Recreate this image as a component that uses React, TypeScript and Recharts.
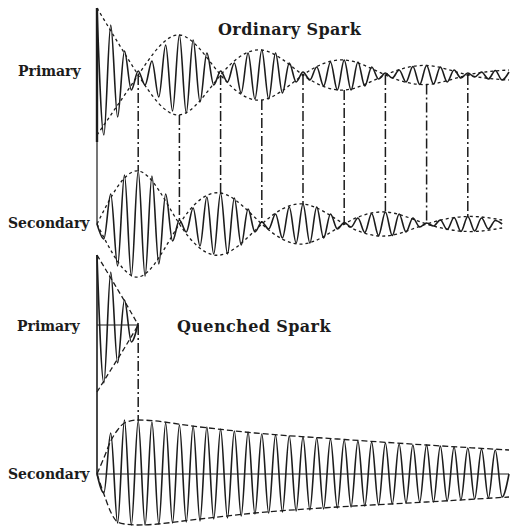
import React from 'react';
import { LineChart, Line, XAxis, YAxis, ReferenceLine } from 'recharts';

// one step of t = one half-cycle of the oscillation
const ordinaryPrimary = [
  67, -60, 50, -42, 24, -15, 4, -10, 14, -22, 30, -36, 40, -38, 35, -27, 22, -10, 4,
  -7, 12, -18, 22, -24, 25, -24, 22, -18, 12, -7, 3,
  -5, 8, -11, 13, -15, 15, -15, 13, -11, 8, -4, 2,
  -3, 5, -7, 8.5, -9.5, 9.5, -9, 8, -7, 5, -3, 2,
  -2, 3, -4, 4.5, -5, 3,
];

const ordinarySecondary = [
  0, -15, 30, -42, 49, -52, 53, -52, 48, -40, 30, -17, 4,
  -8, 16, -22, 27, -30, 31, -30, 26, -21, 15, -8, 2,
  -5, 10, -14, 17, -19, 20, -19, 17, -14, 10, -5, 1.5,
  -3, 6, -8.5, 10.5, -11.5, 12, -11.5, 10, -8, 6, -3, 1,
  -2, 4, -5.5, 6.5, -7.5, 7.5, -7, 6, -5, 3.5, 0,
];

const quenchedPrimary = [70, -58, 53, -38, 25, -17, 2];

const quenchedSecondary = [
  0, -19, 41, -49, 54, -51, 53, -51, 52, -50, 51, -49, 49, -48, 48, -47, 47, -45, 45,
  -44, 43, -42, 42, -40, 40, -39, 39, -38, 38, -37, 37, -36, 36, -35, 35, -34, 34,
  -33, 33, -32, 32, -31, 31, -30, 30, -29, 29, -28, 29, -28, 28, -27, 27, -26, 26,
  -25, 25, -24, 24, -23, 0,
];

// dashed envelopes
const ordinaryEnvT = [0, 6, 12, 18, 24, 30, 36, 42, 48, 54, 60];
const ordinaryPrimaryEnvA = [67, 0, -40, 0, 25, 0, -15, 0, 9.5, 0, -5];
const ordinaryPrimaryEnvB = [-60, 0, 40, 0, -25, 0, 15, 0, -9.5, 0, 5];

const secondaryEnvT = [0, 6, 12, 18, 24, 30, 36, 42, 48, 54, 59];
const ordinarySecondaryEnvA = [0, 53, 0, -31, 0, 20, 0, -12, 0, 7.5, 4];
const ordinarySecondaryEnvB = [0, -53, 0, 31, 0, -20, 0, 12, 0, -7.5, -4];

const quenchedPrimaryEnvT = [0, 2, 4, 6];
const quenchedPrimaryEnvUpper = [70, 47, 24, 0];
const quenchedPrimaryEnvLower = [-67, -45, -23, 0];

const quenchedSecondaryEnvT = [0, 1, 2, 3, 4, 6, 15, 23, 35, 48, 60];
const quenchedSecondaryEnvUpper = [0, 16, 33, 44, 51, 54, 47, 41, 35, 29, 24];
const quenchedSecondaryEnvLower = [0, -20, -38, -48, -50, -51, -45, -39, -33, -28, -23];

// dash-dot links: primary value -> secondary value at the same instant
const linkT = [6, 12, 18, 24, 30, 36, 42, 48, 54];
const linkFromPrimary = [0, -40, 0, -25, 0, -15, 0, -9.5, 0];
const linkToSecondary = [53, 0, 31, 0, 20, 0, 12, 0, 7.5];

const W = 514;
const H = 527;
// pixel row of each trace's zero line
const ZERO = { op: 75, os: 224, qp: 325, qs: 474 };
const INK = '#1c1c1c';

const rows = (values: number[]) => values.map((v, i) => ({ t: i, v }));
const pairs = (ts: number[], vs: number[]) => ts.map((t, i) => ({ t, v: vs[i] }));
const domainFor = (zero: number): [number, number] => [zero - H, zero];

const labelStyle: React.CSSProperties = {
  position: 'absolute',
  fontFamily: '"DejaVu Serif", serif',
  fontWeight: 'bold',
  fontSize: 14,
  lineHeight: '14px',
  color: INK,
  whiteSpace: 'nowrap',
};
const titleStyle: React.CSSProperties = { ...labelStyle, fontSize: 16, lineHeight: '16px', letterSpacing: 0.4 };

const App: React.FC = () => {
  const wave = { dot: false, isAnimationActive: false, stroke: INK, strokeWidth: 1.6, type: 'monotone' as const };
  const env = { dot: false, isAnimationActive: false, stroke: INK, strokeWidth: 1.3, strokeDasharray: '3 3', type: 'natural' as const };
  const osShift = ZERO.os - ZERO.op;
  const qsShift = ZERO.qs - ZERO.qp;

  return (
    <div style={{ position: 'absolute', left: 0, top: 0, width: W, height: H, background: '#fff' }}>
      <LineChart width={W} height={H} margin={{ top: 0, right: 5, bottom: 0, left: 97 }}>
        <XAxis type="number" dataKey="t" domain={[0, 60]} hide />
        <YAxis yAxisId="op" type="number" domain={domainFor(ZERO.op)} hide />
        <YAxis yAxisId="os" type="number" domain={domainFor(ZERO.os)} hide />
        <YAxis yAxisId="qp" type="number" domain={domainFor(ZERO.qp)} hide />
        <YAxis yAxisId="qs" type="number" domain={domainFor(ZERO.qs)} hide />

        {/* axes */}
        <ReferenceLine yAxisId="op" segment={[{ x: 0, y: 67 }, { x: 0, y: -67 }]} stroke={INK} strokeWidth={2.4} />
        <ReferenceLine yAxisId="op" segment={[{ x: 0, y: -67 }, { x: 0, y: -osShift }]} stroke={INK} strokeWidth={1.2} />
        <ReferenceLine yAxisId="qp" segment={[{ x: 0, y: 70 }, { x: 0, y: -qsShift }]} stroke={INK} strokeWidth={1.6} />
        <ReferenceLine yAxisId="qp" segment={[{ x: 0, y: 0 }, { x: 6, y: 0 }]} stroke={INK} strokeWidth={1.2} />
        <ReferenceLine yAxisId="qs" segment={[{ x: 0, y: 0 }, { x: 60, y: 0 }]} stroke={INK} strokeWidth={1.2} />

        {/* dash-dot links */}
        {linkT.map((t, i) => (
          <ReferenceLine
            key={t}
            yAxisId="os"
            segment={[{ x: t, y: linkFromPrimary[i] + osShift }, { x: t, y: linkToSecondary[i] }]}
            stroke={INK}
            strokeWidth={1.5}
            strokeDasharray="10 3 2 3"
          />
        ))}
        <ReferenceLine
          yAxisId="qs"
          segment={[{ x: 6, y: qsShift }, { x: 6, y: 53 }]}
          stroke={INK}
          strokeWidth={1.5}
          strokeDasharray="10 3 2 3"
        />

        {/* envelopes */}
        <Line yAxisId="op" data={pairs(ordinaryEnvT, ordinaryPrimaryEnvA)} dataKey="v" {...env} />
        <Line yAxisId="op" data={pairs(ordinaryEnvT, ordinaryPrimaryEnvB)} dataKey="v" {...env} />
        <Line yAxisId="os" data={pairs(secondaryEnvT, ordinarySecondaryEnvA)} dataKey="v" {...env} />
        <Line yAxisId="os" data={pairs(secondaryEnvT, ordinarySecondaryEnvB)} dataKey="v" {...env} />
        <Line yAxisId="qp" data={pairs(quenchedPrimaryEnvT, quenchedPrimaryEnvUpper)} dataKey="v" {...env} type="monotone" strokeDasharray="5 3" />
        <Line yAxisId="qp" data={pairs(quenchedPrimaryEnvT, quenchedPrimaryEnvLower)} dataKey="v" {...env} type="monotone" strokeDasharray="5 3" />
        <Line yAxisId="qs" data={pairs(quenchedSecondaryEnvT, quenchedSecondaryEnvUpper)} dataKey="v" {...env} type="monotone" strokeDasharray="6 3" />
        <Line yAxisId="qs" data={pairs(quenchedSecondaryEnvT, quenchedSecondaryEnvLower)} dataKey="v" {...env} type="monotone" strokeDasharray="6 3" />

        {/* oscillations */}
        <Line yAxisId="op" data={rows(ordinaryPrimary)} dataKey="v" {...wave} />
        <Line yAxisId="os" data={rows(ordinarySecondary)} dataKey="v" {...wave} />
        <Line yAxisId="qp" data={rows(quenchedPrimary)} dataKey="v" {...wave} />
        <Line yAxisId="qs" data={rows(quenchedSecondary)} dataKey="v" {...wave} />
      </LineChart>

      <div style={{ ...titleStyle, left: 218, top: 22 }}>Ordinary Spark</div>
      <div style={{ ...labelStyle, left: 18, top: 64 }}>Primary</div>
      <div style={{ ...labelStyle, left: 8, top: 216 }}>Secondary</div>
      <div style={{ ...labelStyle, left: 17, top: 319 }}>Primary</div>
      <div style={{ ...titleStyle, left: 177, top: 319 }}>Quenched Spark</div>
      <div style={{ ...labelStyle, left: 8, top: 467 }}>Secondary</div>
    </div>
  );
};

export default App;
